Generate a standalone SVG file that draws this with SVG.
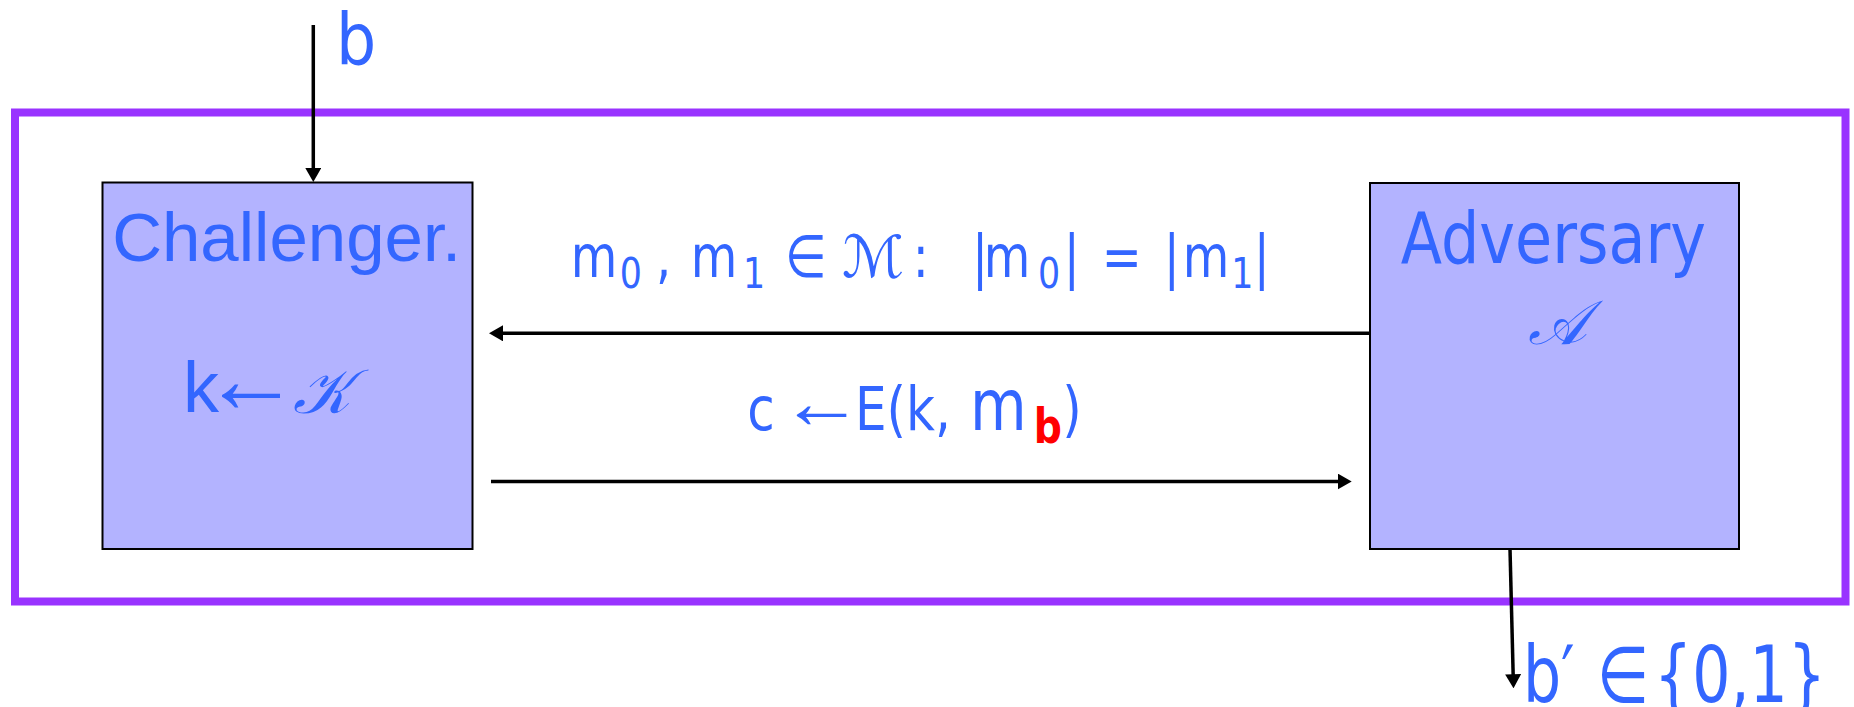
<svg xmlns="http://www.w3.org/2000/svg" width="1854" height="707" viewBox="0 0 1854 707">
<style>
.bg{fill:#ffffff}
.frame{fill:none;stroke:#9933ff;stroke-width:8}
.box{fill:#b3b3ff;stroke:#000000;stroke-width:2}
.conn{stroke:#000000;stroke-width:3.5;fill:none;marker-end:url(#ah)}
.t{fill:#3366ff;font-family:'DejaVu Sans',sans-serif}
.ta{fill:#3366ff;font-family:'Liberation Sans',Arial,sans-serif}
.scr{fill:#3366ff;font-family:'DejaVu Serif','DejaVu Sans','Noto Sans',serif;font-style:italic}
.red{fill:#ff0000;font-weight:bold}
</style>
<defs>
<marker id="ah" markerUnits="userSpaceOnUse" markerWidth="14" markerHeight="16" refX="4" refY="8" orient="auto">
<path d="M0,0 L14,8 L0,16 z" fill="#000000"/>
</marker>
</defs>
<rect class="bg" x="0" y="0" width="1854" height="707"/>
<g id="frame">
<rect class="frame" x="15" y="112.5" width="1830.5" height="489"/>
</g>
<g id="challenger">
<rect class="box" x="102.5" y="182.5" width="370" height="366.5"/>
<text class="ta" x="286.7" y="261" font-size="69" text-anchor="middle">Challenger.</text>
<text class="ta" x="183" y="412.3" font-size="72">k<tspan x="202" y="412.3" font-size="98">←</tspan><tspan class="scr" x="293" y="413" font-size="62">𝒦</tspan></text>
</g>
<g id="adversary">
<rect class="box" x="1370" y="183" width="369" height="366"/>
<text class="t" transform="scale(0.85,1)" x="1827.5" y="263.3" font-size="71" text-anchor="middle">Adversary</text>
<text class="scr" x="1528" y="344" font-size="62">𝒜</text>
</g>
<g id="label-top">
<text class="t" transform="scale(0.81,1)" font-size="59"><tspan x="704.6" y="277.3">m</tspan><tspan x="765" y="288.3" font-size="43">0</tspan><tspan x="810" y="277.3">,</tspan><tspan x="852.7" y="277.3">m</tspan><tspan x="917.2" y="288.3" font-size="43">1</tspan><tspan x="969" y="277.3">∈</tspan></text>
<text class="scr" x="842" y="276.7" font-size="58">ℳ</text>
<text class="t" transform="scale(0.81,1)" font-size="59"><tspan x="1126.7" y="277.3">:</tspan><tspan x="1200" y="277.3">|</tspan><tspan x="1214.4" y="277.3">m</tspan><tspan x="1281.4" y="288.3" font-size="43">0</tspan><tspan x="1313.3" y="277.3">|</tspan><tspan x="1360.1" y="277.3">=</tspan><tspan x="1436.8" y="277.3">|</tspan><tspan x="1460.1" y="277.3">m</tspan><tspan x="1520" y="288.3" font-size="43">1</tspan><tspan x="1547.9" y="277.3">|</tspan></text>
</g>
<g id="label-bottom">
<text class="t" transform="scale(0.82,1)" font-size="61"><tspan x="911.2" y="430">c</tspan></text>
<text class="ta" transform="translate(780,427.7) scale(1.1,1)" x="0" y="0" font-size="76">←</text>
<text class="t" transform="scale(0.82,1)" font-size="61"><tspan x="1042.7" y="430">E(k,</tspan><tspan x="1183" y="430" font-size="71">m</tspan><tspan class="red" x="1260.8" y="443" font-size="48">b</tspan><tspan x="1295.4" y="430">)</tspan></text>
</g>
<g id="label-b">
<text class="t" transform="scale(0.88,1)" x="381.8" y="64.3" font-size="72">b</text>
</g>
<g id="label-bprime">
<text class="t" transform="scale(0.77,1)" font-size="78"><tspan x="1977.8" y="701.7">b′</tspan><tspan x="2074" y="701.7">∈</tspan><tspan x="2148" y="701.7">{0,1}</tspan></text>
</g>
<g id="connectors">
<line class="conn" x1="313.3" y1="25" x2="313.3" y2="172"/>
<line class="conn" x1="1369" y1="333.3" x2="499" y2="333.3"/>
<line class="conn" x1="491" y1="481.5" x2="1341.7" y2="481.5"/>
<line class="conn" x1="1510" y1="549" x2="1513.25" y2="678.3"/>
</g>
</svg>
